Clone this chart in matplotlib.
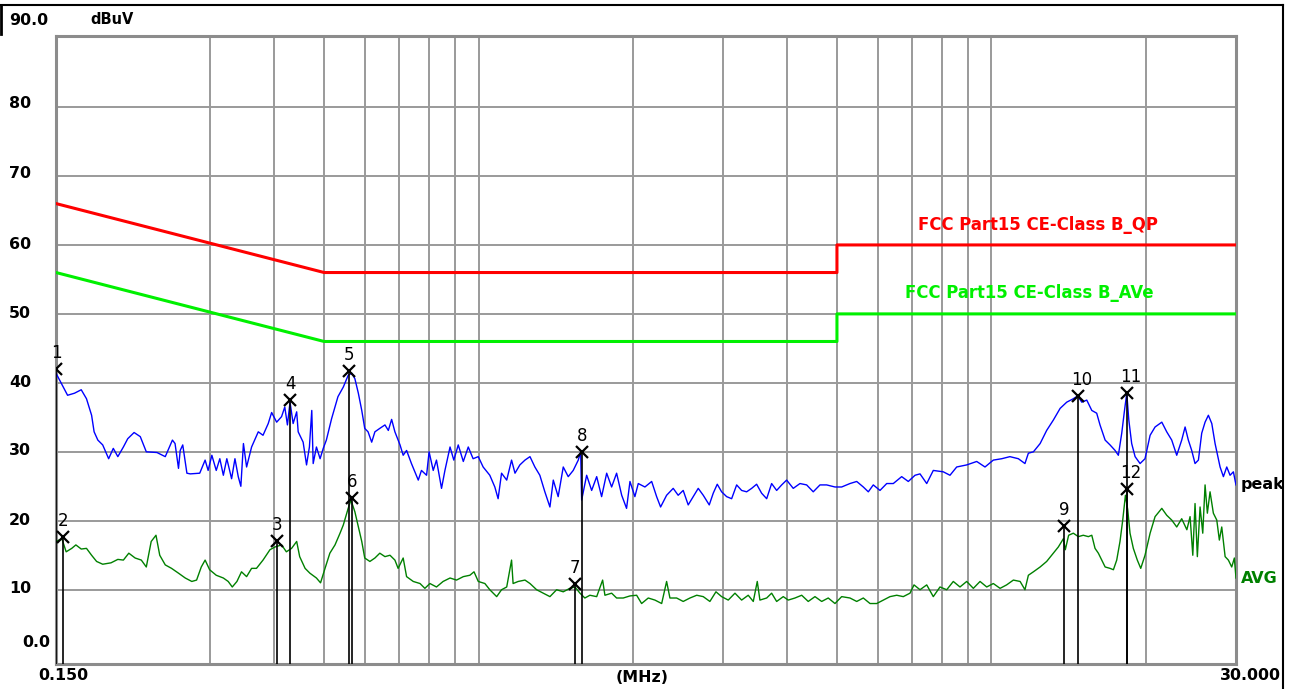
import numpy as np
import matplotlib
matplotlib.use("Agg")
from matplotlib import pyplot as plt
from matplotlib import transforms
from matplotlib.lines import Line2D
from matplotlib.patches import Rectangle
from matplotlib.ticker import NullLocator

# peak trace (MHz, dBuV)
peak_freq = [0.150, 0.155, 0.158, 0.163, 0.168, 0.172, 0.176, 0.178, 0.181, 0.185,
             0.190, 0.194, 0.198, 0.203, 0.207, 0.213, 0.219, 0.225, 0.236, 0.245,
             0.253, 0.256, 0.260, 0.262, 0.265, 0.270, 0.274, 0.286, 0.293, 0.297,
             0.302, 0.308, 0.313, 0.318, 0.323, 0.330, 0.335, 0.340, 0.344, 0.348,
             0.353, 0.361, 0.366, 0.372, 0.380, 0.389, 0.395, 0.404, 0.413, 0.419,
             0.424, 0.429, 0.435, 0.442, 0.445, 0.455, 0.462, 0.468, 0.473, 0.476,
             0.483, 0.491, 0.498, 0.505, 0.517, 0.532, 0.545, 0.557, 0.566, 0.574,
             0.583, 0.592, 0.600, 0.609, 0.619, 0.628, 0.642, 0.657, 0.667, 0.677,
             0.687, 0.703, 0.713, 0.724, 0.740, 0.763, 0.774, 0.792, 0.801, 0.816,
             0.828, 0.847, 0.860, 0.880, 0.895, 0.913, 0.934, 0.955, 0.976, 0.999,
             1.021, 1.052, 1.076, 1.092, 1.109, 1.135, 1.160, 1.178, 1.204, 1.232,
             1.260, 1.288, 1.317, 1.347, 1.378, 1.399, 1.430, 1.463, 1.496, 1.530,
             1.565, 1.582, 1.589, 1.625, 1.662, 1.700, 1.738, 1.778, 1.818, 1.859,
             1.902, 1.944, 1.974, 2.018, 2.049, 2.111, 2.176, 2.225, 2.265, 2.327,
             2.397, 2.451, 2.507, 2.564, 2.622, 2.682, 2.743, 2.818, 2.869, 2.921,
             2.979, 3.047, 3.116, 3.187, 3.259, 3.333, 3.409, 3.486, 3.565, 3.647,
             3.729, 3.814, 3.901, 3.989, 4.109, 4.235, 4.364, 4.495, 4.633, 4.774,
             4.956, 5.107, 5.301, 5.464, 5.628, 5.756, 5.886, 6.066, 6.252, 6.439,
             6.686, 6.888, 7.099, 7.260, 7.482, 7.706, 8.059, 8.306, 8.560, 8.953,
             9.365, 9.720, 10.09, 10.48, 10.87, 11.29, 11.63, 11.81, 12.08, 12.45,
             12.82, 13.21, 13.62, 14.03, 14.45, 14.74, 15.01, 15.35, 15.70, 16.05,
             16.29, 16.67, 17.04, 17.43, 17.69, 17.96, 18.17, 18.37, 18.54, 18.78,
             19.07, 19.50, 19.94, 20.40, 20.86, 21.50, 21.98, 22.48, 22.99, 23.51,
             23.87, 24.22, 24.59, 24.96, 25.34, 25.72, 26.11, 26.50, 26.91, 27.31,
             27.93, 28.35, 28.78, 29.21, 29.65, 30.00]
peak_level = [41.4, 39.4, 38.2, 38.5, 39.0, 37.7, 35.3, 32.9, 31.7, 31.0,
              29.0, 30.5, 29.3, 30.7, 31.9, 32.8, 32.2, 30.0, 29.9, 29.3,
              31.7, 31.2, 27.6, 30.2, 31.0, 26.9, 26.8, 26.9, 28.8, 27.3,
              29.5, 27.3, 29.0, 26.6, 29.0, 26.1, 29.0, 26.4, 25.0, 31.2,
              27.8, 30.7, 31.7, 32.9, 32.4, 34.1, 35.7, 34.3, 35.1, 36.5,
              33.9, 37.2, 34.1, 35.8, 32.9, 31.4, 28.1, 30.7, 36.0, 28.3,
              30.7, 29.0, 30.5, 31.7, 34.8, 38.0, 39.4, 41.1, 41.4, 40.6,
              38.5, 36.0, 33.4, 32.9, 31.4, 32.9, 33.4, 33.9, 33.1, 34.7,
              32.9, 31.0, 29.5, 30.2, 28.3, 25.9, 27.3, 26.6, 30.0, 27.3,
              28.8, 24.7, 27.3, 30.7, 28.8, 31.0, 28.6, 30.7, 29.0, 29.3,
              27.8, 26.6, 24.9, 23.2, 26.9, 25.9, 28.8, 26.9, 28.1, 28.8,
              29.3, 27.8, 26.6, 24.2, 22.0, 25.9, 23.5, 27.8, 26.4, 27.3,
              28.8, 30.0, 23.0, 26.6, 24.4, 26.4, 23.5, 26.9, 24.9, 26.9,
              23.7, 21.8, 25.7, 23.5, 25.4, 24.9, 25.7, 23.5, 22.0, 23.7,
              24.7, 23.7, 24.4, 22.3, 23.5, 24.7, 23.7, 22.3, 24.0, 25.3,
              24.2, 23.5, 23.2, 25.2, 24.4, 24.2, 24.7, 25.3, 24.0, 23.2,
              25.4, 24.4, 25.2, 25.9, 24.7, 25.4, 25.2, 24.2, 25.2, 25.2,
              24.9, 24.9, 25.4, 25.7, 24.9, 24.2, 25.2, 24.4, 25.4, 25.4,
              26.4, 25.7, 26.6, 26.8, 25.4, 27.3, 27.1, 26.6, 27.8, 28.1,
              28.6, 27.8, 28.8, 29.0, 29.3, 29.0, 28.3, 29.8, 30.0, 31.2,
              33.1, 34.6, 36.3, 37.2, 37.7, 38.1, 37.2, 37.5, 36.0, 35.6,
              33.9, 31.7, 31.0, 30.2, 29.5, 32.7, 35.8, 38.5, 34.6, 31.2,
              29.3, 28.3, 29.0, 32.4, 33.6, 34.3, 32.9, 31.7, 29.5, 31.7,
              33.6, 31.7, 30.2, 28.3, 28.8, 32.7, 34.3, 35.3, 34.1, 31.2,
              27.8, 26.4, 27.8, 26.6, 27.1, 25.2]

# average trace (MHz, dBuV)
avg_freq = [0.150, 0.154, 0.157, 0.161, 0.164, 0.168, 0.172, 0.176, 0.180, 0.185,
            0.192, 0.198, 0.203, 0.208, 0.214, 0.220, 0.225, 0.230, 0.235, 0.239,
            0.245, 0.252, 0.260, 0.268, 0.276, 0.282, 0.288, 0.293, 0.299, 0.308,
            0.318, 0.325, 0.331, 0.338, 0.345, 0.353, 0.361, 0.369, 0.380, 0.392,
            0.401, 0.413, 0.422, 0.432, 0.442, 0.448, 0.459, 0.469, 0.483, 0.492,
            0.502, 0.513, 0.525, 0.537, 0.545, 0.557, 0.564, 0.574, 0.583, 0.592,
            0.600, 0.614, 0.628, 0.642, 0.657, 0.672, 0.687, 0.697, 0.713, 0.724,
            0.746, 0.769, 0.786, 0.804, 0.828, 0.853, 0.880, 0.906, 0.934, 0.962,
            0.980, 0.999, 1.029, 1.052, 1.085, 1.109, 1.135, 1.160, 1.168, 1.195,
            1.232, 1.260, 1.298, 1.337, 1.378, 1.420, 1.463, 1.507, 1.542, 1.577,
            1.612, 1.649, 1.700, 1.746, 1.764, 1.818, 1.859, 1.915, 1.974, 2.034,
            2.080, 2.143, 2.208, 2.276, 2.327, 2.362, 2.434, 2.507, 2.584, 2.664,
            2.743, 2.826, 2.904, 2.979, 3.069, 3.163, 3.259, 3.357, 3.434, 3.496,
            3.538, 3.647, 3.729, 3.814, 3.929, 4.018, 4.141, 4.268, 4.395, 4.530,
            4.669, 4.808, 4.956, 5.107, 5.301, 5.464, 5.628, 5.800, 5.977, 6.156,
            6.345, 6.539, 6.734, 6.941, 7.067, 7.260, 7.482, 7.706, 7.941, 8.185,
            8.430, 8.687, 8.953, 9.224, 9.506, 9.795, 10.09, 10.40, 10.71, 11.04,
            11.38, 11.63, 11.81, 12.08, 12.45, 12.82, 13.21, 13.51, 13.82, 13.94,
            14.15, 14.45, 14.78, 15.11, 15.46, 15.70, 15.93, 16.17, 16.42, 16.67,
            17.04, 17.30, 17.56, 17.82, 18.04, 18.26, 18.45, 18.64, 18.92, 19.26,
            19.56, 19.94, 20.40, 20.86, 21.50, 21.98, 22.48, 22.99, 23.51, 24.06,
            24.41, 24.71, 24.96, 25.22, 25.53, 25.84, 26.11, 26.38, 26.70, 27.10,
            27.52, 27.84, 28.14, 28.57, 28.99, 29.43, 29.78, 30.00]
avg_level = [17.0, 17.4, 15.5, 16.0, 16.5, 15.9, 16.0, 15.0, 14.1, 13.7,
             13.9, 14.4, 14.3, 15.3, 14.6, 14.3, 13.3, 17.0, 17.9, 15.0,
             13.6, 13.1, 12.4, 11.7, 11.2, 11.4, 13.3, 14.3, 12.9, 12.1,
             11.7, 11.2, 10.4, 11.2, 12.6, 11.9, 13.1, 13.1, 14.3, 15.8,
             16.2, 16.5, 15.5, 16.0, 17.0, 14.8, 13.1, 12.4, 11.7, 11.0,
             13.1, 15.3, 16.5, 18.2, 19.4, 21.8, 23.0, 21.3, 19.1, 17.0,
             14.6, 14.1, 14.6, 15.3, 14.8, 15.0, 14.3, 13.1, 14.6, 11.9,
             11.2, 10.9, 10.2, 10.9, 10.4, 11.2, 11.7, 11.4, 11.9, 12.1,
             12.6, 11.2, 10.9, 10.0, 9.0, 10.0, 10.4, 14.3, 10.9, 11.2,
             11.4, 10.9, 10.0, 9.5, 9.0, 10.0, 9.7, 10.2, 10.4, 9.5,
             8.8, 9.2, 9.0, 11.4, 9.2, 9.5, 8.8, 8.8, 9.1, 9.2,
             8.0, 8.8, 8.5, 8.0, 11.2, 8.8, 8.8, 8.3, 8.8, 9.2,
             9.0, 8.3, 9.7, 9.0, 8.5, 9.5, 8.5, 9.2, 8.3, 11.2,
             8.5, 8.8, 9.5, 8.3, 9.0, 8.5, 8.8, 9.2, 8.3, 9.0,
             8.3, 8.8, 8.0, 9.0, 8.8, 8.3, 8.8, 8.0, 8.0, 8.5,
             9.0, 9.2, 9.0, 9.5, 10.7, 10.0, 10.7, 9.0, 10.4, 10.0,
             11.2, 10.4, 11.2, 10.2, 11.2, 10.4, 10.9, 10.2, 10.7, 11.4,
             11.2, 10.0, 12.1, 12.6, 13.3, 14.1, 15.3, 16.2, 17.4, 15.8,
             17.9, 18.2, 17.7, 17.9, 17.7, 17.9, 16.0, 15.3, 14.3, 13.3,
             13.1, 12.9, 14.3, 17.0, 20.1, 23.7, 21.6, 18.2, 16.0, 14.3,
             13.1, 15.0, 18.2, 20.6, 21.8, 20.8, 20.1, 19.1, 20.3, 18.7,
             20.6, 15.0, 22.5, 14.8, 22.0, 18.2, 25.2, 21.1, 24.2, 21.1,
             20.1, 17.2, 19.1, 14.8, 14.3, 13.3, 14.6, 11.7]

# FCC Part15 class B limits
qp_freq = [0.15, 0.5, 5.0, 5.0, 30.0]
qp_level = [66.0, 56.0, 56.0, 60.0, 60.0]
av_freq = [0.15, 0.5, 5.0, 5.0, 30.0]
av_level = [56.0, 46.0, 46.0, 50.0, 50.0]

# markers
marker_freq = [0.150, 0.155, 0.404, 0.429, 0.559, 0.566, 1.542, 1.589, 13.86, 14.74, 18.37, 18.37]
marker_level = [42.0, 17.6, 17.1, 37.5, 41.7, 23.3, 10.9, 30.0, 19.2, 38.1, 38.5, 24.6]
marker_names = ['1', '2', '3', '4', '5', '6', '7', '8', '9', '10', '11', '12']

grid_freq = [0.3, 0.4, 0.5, 0.6, 0.7, 0.8, 0.9, 1, 2, 3, 4, 5, 6, 7, 8, 9, 10, 20]
grid_level = [10, 20, 30, 40, 50, 60, 70, 80]
ytick_text = ['0.0', '10', '20', '30', '40', '50', '60', '70', '80', '90.0']
ytick_pos = [2.3, 10.2, 20.1, 30.2, 40.1, 50.1, 60.1, 70.4, 80.5, 92.6]

assert len(peak_freq) == len(peak_level)
assert len(avg_freq) == len(avg_level)

W, H = 1291, 689
fig = plt.figure(figsize=(W / 100, H / 100), dpi=100)
ax = fig.add_axes([56 / W, 25 / H, 1180 / W, 628 / H])
ax.set_xscale('log')
ymin, ymax = -0.77, 90.3
ax.set_xlim(0.15, 30)
ax.set_ylim(ymin, ymax)
ax.xaxis.set_major_locator(NullLocator())
ax.xaxis.set_minor_locator(NullLocator())
ax.yaxis.set_major_locator(NullLocator())
for s in ax.spines.values():
    s.set_color('#8c8c8c')
    s.set_linewidth(2.2)

for f in grid_freq:
    ax.axvline(f, color='#9a9a9a', lw=1.4, zorder=1)
for lv in grid_level:
    ax.axhline(lv, color='#9a9a9a', lw=1.4, zorder=1)

ax.plot(qp_freq, qp_level, color='#ff0000', lw=2.2, zorder=3)
ax.plot(av_freq, av_level, color='#00f000', lw=2.2, zorder=3)
ax.plot(peak_freq, peak_level, color='#0000ff', lw=1.0, zorder=4)
ax.plot(avg_freq, avg_level, color='#008000', lw=1.0, zorder=4)

ax.vlines(marker_freq, ymin, marker_level, color='black', lw=1.2, zorder=5)
ax.plot(marker_freq, marker_level, 'x', color='black', ms=9, mew=1.6, zorder=6)
for f, lv, name in zip(marker_freq, marker_level, marker_names):
    dx = 3 if len(name) > 1 else 0
    ax.annotate(name, (f, lv), xytext=(dx, 11.5), textcoords='offset points',
                ha='center', va='center', fontsize=12, color='black', zorder=7)

bold = dict(fontweight='bold', fontfamily='DejaVu Sans')
ax.text(7.2, 62.9, 'FCC Part15 CE-Class B_QP', color='#ff0000', fontsize=11.9,
        ha='left', va='center', **bold)
ax.text(6.79, 53.0, 'FCC Part15 CE-Class B_AVe', color='#00f000', fontsize=11.9,
        ha='left', va='center', **bold)
ax.text(peak_freq[-1] * 1.023, peak_level[-1], 'peak', color='black', fontsize=11.5,
        ha='left', va='center', clip_on=False, **bold)
ax.text(avg_freq[-1] * 1.023, avg_level[-1], 'AVG', color='#008000', fontsize=11.5,
        ha='left', va='center', clip_on=False, **bold)

# y axis labels
trans = transforms.blended_transform_factory(fig.transFigure, ax.transData)
for txt, y in zip(ytick_text, ytick_pos):
    xx = 22 / W if txt == '0.0' else 9 / W
    ax.text(xx, y, txt, transform=trans, ha='left', va='center', fontsize=11.4, **bold)
fig.text(90 / W, 1 - 19 / H, 'dBuV', ha='left', va='center', fontsize=10.5, **bold)

# x axis labels
fig.text(38 / W, 1 - 676 / H, '0.150', ha='left', va='center', fontsize=11.4, **bold)
fig.text(642 / W, 1 - 677 / H, '(MHz)', ha='center', va='center', fontsize=11.4, **bold)
fig.text(1220 / W, 1 - 676 / H, '30.000', ha='left', va='center', fontsize=11.4, **bold)

# outer frame, cut on the right
fig.add_artist(Rectangle((1284 / W, 0), 1 - 1284 / W, 1, transform=fig.transFigure,
                         facecolor='white', edgecolor='none', zorder=20))
fig.add_artist(Line2D([0, 1283 / W], [1 - 4.5 / H, 1 - 4.5 / H], transform=fig.transFigure,
                      color='black', lw=1.5, zorder=21))
fig.add_artist(Line2D([1283 / W, 1283 / W], [0, 1 - 4.5 / H], transform=fig.transFigure,
                      color='black', lw=1.5, zorder=21))
fig.add_artist(Line2D([1.5 / W, 1.5 / W], [1 - 34 / H, 1 - 4.5 / H], transform=fig.transFigure,
                      color='black', lw=2, zorder=21))

fig.savefig('out.png', dpi=100)
